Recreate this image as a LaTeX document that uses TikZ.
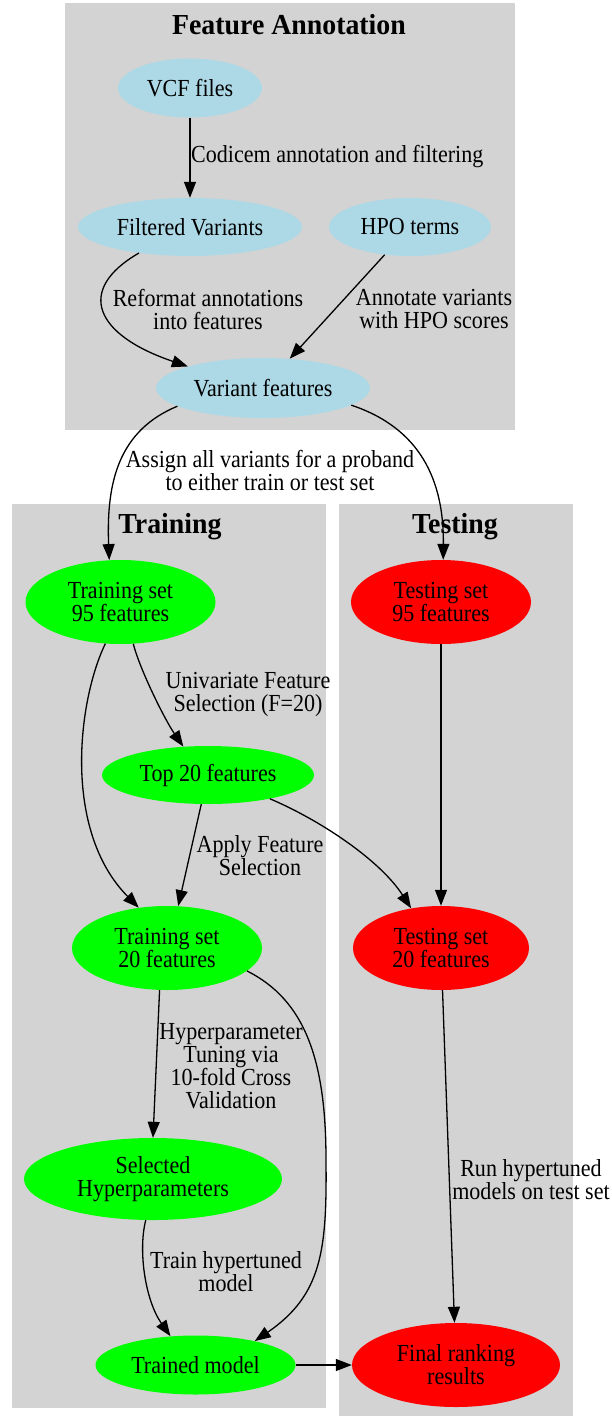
\documentclass[tikz,border=0pt]{standalone}
\usepackage{fontspec}
\setmainfont{Liberation Serif}[FakeStretch=0.9]
\newfontfamily\titlefamily{Liberation Serif}[FakeStretch=0.96]
\usetikzlibrary{arrows.meta,shapes.geometric}
\definecolor{clgray}{HTML}{D3D3D3}
\definecolor{lblue}{HTML}{ADD8E6}
\definecolor{gvgreen}{HTML}{00FF00}
\definecolor{gvred}{HTML}{FF0000}
\newcommand\bodyfont{\fontsize{24.5}{23}\selectfont}
\newcommand\clusterfont{\titlefamily\bfseries\fontsize{29}{30}\selectfont}
\tikzset{
  gvnode/.style={ellipse, inner sep=0pt, align=center, font=\bodyfont},
  bluenode/.style={gvnode, fill=lblue},
  greennode/.style={gvnode, fill=gvgreen},
  rednode/.style={gvnode, fill=gvred},
  cluster/.style={fill=clgray, draw=none},
  clustertitle/.style={font=\clusterfont, inner sep=0pt},
  elabel/.style={font=\bodyfont, align=center, inner sep=0pt},
  edge/.style={line width=1.3pt, -{Triangle[length=16pt,width=12pt]}},
}
\begin{document}
\begin{tikzpicture}[x=1pt,y=-1pt]
\path[use as bounding box] (0,0) rectangle (612,1416);
% clusters
\fill[cluster] (65,3) rectangle (515,430);
\fill[cluster] (12,504) rectangle (326,1408);
\fill[cluster] (339,504) rectangle (573,1416);
\node[clustertitle] (tFA) at (289,25) {Feature Annotation};
\node[clustertitle] (tTR) at (170,527) {Training};
\node[clustertitle] (tTE) at (455,527) {Testing};
% nodes
\node[bluenode, minimum width=144pt, minimum height=59pt] (vcf) at (190,88) {VCF files};
\node[bluenode, minimum width=224pt, minimum height=58pt] (filt) at (190,227) {Filtered Variants};
\node[bluenode, minimum width=162pt, minimum height=58pt] (hpo) at (410,227) {HPO terms};
\node[bluenode, minimum width=214pt, minimum height=60pt] (vf) at (263,388) {Variant features};
\node[greennode, minimum width=190pt, minimum height=84pt] (tr95) at (120.5,602) {Training set\\95 features};
\node[rednode, minimum width=180pt, minimum height=84pt] (te95) at (441,602) {Testing set\\95 features};
\node[greennode, minimum width=212pt, minimum height=58pt] (top20) at (208,775) {Top 20 features};
\node[greennode, minimum width=190pt, minimum height=84pt] (tr20) at (167,948) {Training set\\20 features};
\node[rednode, minimum width=176pt, minimum height=84pt] (te20) at (441,948) {Testing set\\20 features};
\node[greennode, minimum width=258pt, minimum height=82pt] (sel) at (153,1179) {Selected\\Hyperparameters};
\node[greennode, minimum width=200pt, minimum height=59pt] (trained) at (195.5,1365) {Trained model};
\node[rednode, minimum width=208pt, minimum height=84pt] (final) at (456,1365) {Final ranking\\results};
% edges
\draw[edge] (vcf) -- (filt);
\node[elabel, anchor=west] (l1) at (191,157) {Codicem annotation and filtering};
\draw[edge] (filt.-153) .. controls (75,290) and (95,335) .. (vf.164);
\node[elabel] (l2) at (208,309) {Reformat annotations\\into features};
\draw[edge] (hpo) -- (vf);
\node[elabel] (l3) at (434,309) {Annotate variants\\with HPO scores};
\draw[edge] (vf.192) .. controls (120,430) and (106,480) .. (tr95.105);
\draw[edge] (vf.-11) .. controls (420,428) and (444,480) .. (te95.87);
\node[elabel] (l4) at (270,470) {Assign all variants for a proband\\to either train or test set};
\draw[edge] (tr95.-73) .. controls (140,670) and (165,720) .. (top20.131);
\node[elabel] (l6) at (248,694) {Univariate Feature\\Selection (F=20)};
\draw[edge] (tr95.-110) .. controls (78,700) and (62,830) .. (tr20.125);
\draw[edge] (top20.-103) -- (tr20.75);
\node[elabel] (l8) at (260,856) {Apply Feature\\Selection};
\draw[edge] (top20.-21) .. controls (320,820) and (380,860) .. (te20.127);
\draw[edge] (te95) -- (te20);
\draw[edge] (tr20.-100) -- (sel.north);
\node[elabel] (l11) at (231,1066) {Hyperparameter\\Tuning via\\10-fold Cross\\Validation};
\draw[edge] (tr20.-16) .. controls (305,1000) and (326,1060) .. (326,1160) .. controls (327,1250) and (322,1295) .. (trained.22);
\draw[edge] (sel.-100) .. controls (138,1250) and (145,1300) .. (trained.131);
\node[elabel] (l13) at (226,1272) {Train hypertuned\\model};
\draw[edge] (te20) -- (final);
\node[elabel] (l14) at (531,1180) {Run hypertuned\\models on test set};
\draw[edge] (trained) -- (final);
\end{tikzpicture}
\end{document}
